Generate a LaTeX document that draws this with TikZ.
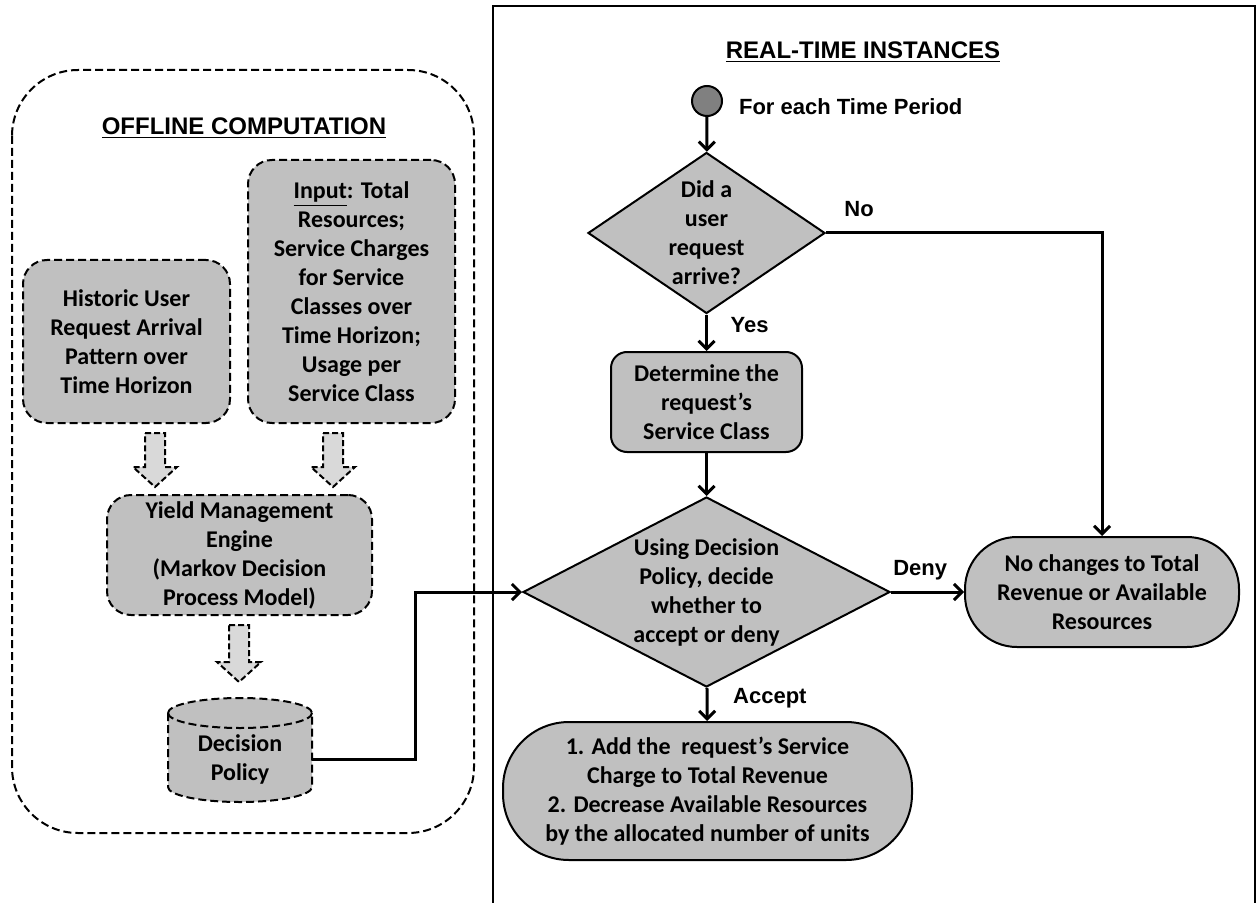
\documentclass[tikz,border=0pt]{standalone}
\usepackage{fontspec}
\setmainfont{Carlito}
\newfontfamily\labfont{Liberation Sans}
\usetikzlibrary{shapes.geometric, arrows.meta, positioning}

\definecolor{boxgray}{HTML}{C0C0C0}
\definecolor{arrgray}{HTML}{D9D9D9}
\definecolor{dotgray}{HTML}{808080}

\begin{document}
\begin{tikzpicture}[x=0.5pt, y=-0.5pt,
  every node/.style={font=\fontsize{12}{14.5}\selectfont\bfseries, align=center},
  dbox/.style={draw, dash pattern=on 4pt off 2pt, line width=1pt, fill=boxgray, rounded corners=12pt, inner sep=1pt},
  sbox/.style={draw, line width=1pt, fill=boxgray, rounded corners=8pt, inner sep=1pt},
  cond/.style={diamond, draw, line width=1pt, fill=boxgray, inner sep=0pt},
  fat/.style={draw, dash pattern=on 3pt off 1.5pt, line width=1pt, fill=arrgray},
  flow/.style={line width=1.5pt, -{Straight Barb[length=4pt, width=8pt]}},
  lab/.style={font=\labfont\bfseries\fontsize{11}{13}\selectfont},
  head/.style={font=\labfont\bfseries\fontsize{12}{14}\selectfont}]
\useasboundingbox (0,0) rectangle (1256,903);

\draw[dash pattern=on 4pt off 2pt, line width=1pt, rounded corners=33pt] (12,70) rectangle (474,833);
\node[head] (ot) at (244,128) {\underline{OFFLINE COMPUTATION}};
\node[dbox, minimum width=103.5pt, minimum height=131.5pt] (inp) at (351.5,291.5) {\underline{Input}: Total\\Resources;\\Service Charges\\for Service\\Classes over\\Time Horizon;\\Usage per\\Service Class};
\node[dbox, minimum width=103.5pt, minimum height=81.5pt] (hist) at (126.5,341.5) {Historic User\\Request Arrival\\Pattern over\\Time Horizon};
\node[dbox, minimum width=132.5pt, minimum height=60pt] (yme) at (239.5,555) {Yield Management\\Engine\\(Markov Decision\\Process Model)};
\foreach \x/\ya/\yb in {155/433/487, 333/433/487, 239/625/682}
  \draw[fat] (\x-10,\ya) -- (\x+10,\ya) -- (\x+10,\yb-20) -- (\x+22,\yb-20) -- (\x,\yb) -- (\x-22,\yb-20) -- (\x-10,\yb-20) -- cycle;
\path[draw, fill=boxgray, dash pattern=on 4pt off 2pt, line width=1pt] (168,713) -- (168,787) arc[start angle=180, end angle=360, x radius=36pt, y radius=7.5pt] -- (312,713) arc[start angle=0, end angle=180, x radius=36pt, y radius=7.5pt] -- cycle;
\draw[dash pattern=on 4pt off 2pt, line width=1pt] (168,713) arc[start angle=180, end angle=360, x radius=36pt, y radius=7.5pt];
\node[minimum width=72pt, inner sep=0pt] (pol) at (240,759) {Decision\\Policy};

\draw[line width=1pt] (493,903) -- (493,6) -- (1255,6) -- (1255,903);
\node[head] (rt) at (863,52) {\underline{REAL-TIME INSTANCES}};
\node[circle, draw, line width=1pt, fill=dotgray, minimum size=15pt, inner sep=0pt] (st) at (707,101) {};
\node[lab, right=4.5pt of st, yshift=-3pt] (stl) {For each Time Period};
\node[cond, minimum width=118.5pt, minimum height=80.5pt, label={center:{Did a\\user\\request\\arrive?}}] (q1) at (706.5,233) {};
\node[sbox, minimum width=95.5pt, minimum height=50pt] (cls) at (706.5,402) {Determine the\\request’s\\Service Class};
\node[cond, minimum width=183.5pt, minimum height=95pt, label={center:{Using Decision\\Policy, decide\\whether to\\accept or deny}}] (q2) at (706.5,592) {};
\node[sbox, rounded corners=26pt, minimum width=137pt, minimum height=55pt] (nc) at (1102,592) {No changes to Total\\Revenue or Available\\Resources};
\node[sbox, rounded corners=33pt, minimum width=204.5pt, minimum height=69pt] (upd) at (707.5,791) {1. Add the\ \ request’s Service\\Charge to Total Revenue\\2. Decrease Available Resources\\by the allocated number of units};

\draw[flow] (st) -- (q1);
\draw[flow] (q1) -- (cls) node[lab, right=8pt, pos=.3]{Yes};
\draw[flow] (q1) -| (nc) node[lab, above=4pt, pos=.06]{No};
\draw[flow] (cls) -- (q2);
\draw[flow] (q2) -- (nc) node[lab, above=2pt, pos=.4]{Deny};
\draw[flow] (q2) -- (upd) node[lab, right=9pt, pos=.3]{Accept};
\draw[flow] (pol.east) -- ++(103,0) |- (q2);
\end{tikzpicture}
\end{document}
